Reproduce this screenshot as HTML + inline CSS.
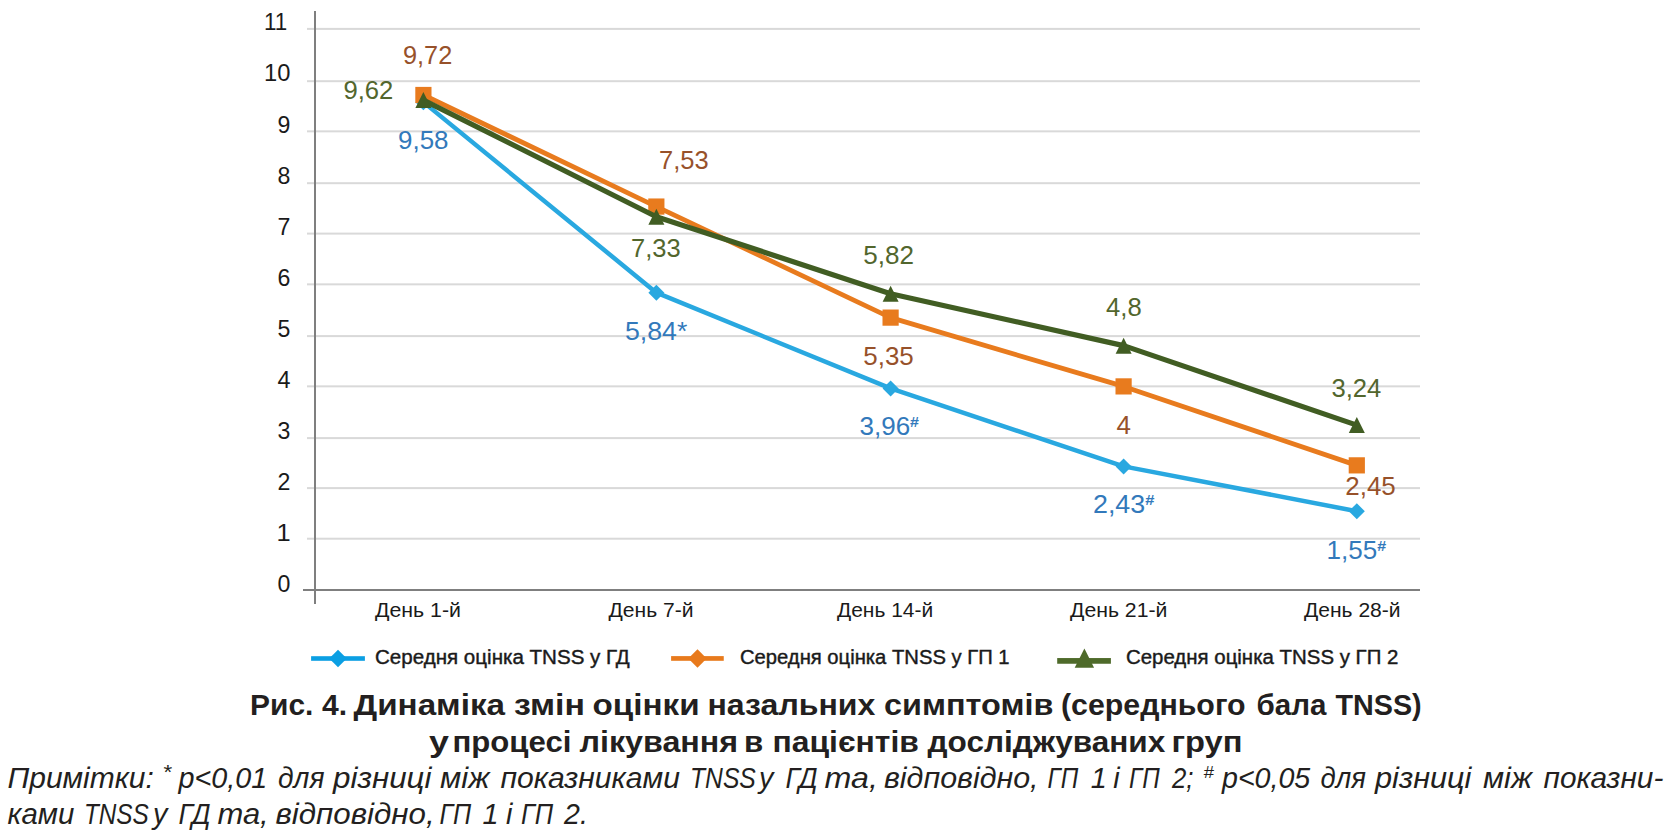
<!DOCTYPE html><html><head><meta charset="utf-8"><title>TNSS chart</title><style>html,body{margin:0;padding:0;background:#fff;}svg{display:block;}text{font-family:"Liberation Sans",Arial,sans-serif;}</style></head><body>
<svg width="1675" height="831" viewBox="0 0 1675 831">
<rect width="1675" height="831" fill="#fff"/>
<rect x="307" y="537.70" width="1113" height="2" fill="#d9d9d9"/>
<rect x="307" y="487.10" width="1113" height="2" fill="#d9d9d9"/>
<rect x="307" y="437.10" width="1113" height="2" fill="#d9d9d9"/>
<rect x="307" y="385.35" width="1113" height="2" fill="#d9d9d9"/>
<rect x="307" y="335.10" width="1113" height="2" fill="#d9d9d9"/>
<rect x="307" y="283.35" width="1113" height="2" fill="#d9d9d9"/>
<rect x="307" y="232.60" width="1113" height="2" fill="#d9d9d9"/>
<rect x="307" y="182.20" width="1113" height="2" fill="#d9d9d9"/>
<rect x="307" y="130.35" width="1113" height="2" fill="#d9d9d9"/>
<rect x="307" y="80.20" width="1113" height="2" fill="#d9d9d9"/>
<rect x="307" y="27.90" width="1113" height="2" fill="#d9d9d9"/>
<rect x="314" y="11" width="2" height="593" fill="#7f7f7f"/>
<rect x="303" y="589" width="1117" height="2" fill="#7f7f7f"/>
<polyline points="423.40,102.13 656.35,292.66 890.60,388.44 1123.60,466.38 1356.80,511.22" fill="none" stroke="#29a8e0" stroke-width="4.5" stroke-linejoin="round"/>
<polygon points="423.40,94.13 431.40,102.13 423.40,110.13 415.40,102.13" fill="#29a8e0"/>
<polygon points="656.35,284.66 664.35,292.66 656.35,300.66 648.35,292.66" fill="#29a8e0"/>
<polygon points="890.60,380.44 898.60,388.44 890.60,396.44 882.60,388.44" fill="#29a8e0"/>
<polygon points="1123.60,458.38 1131.60,466.38 1123.60,474.38 1115.60,466.38" fill="#29a8e0"/>
<polygon points="1356.80,503.22 1364.80,511.22 1356.80,519.22 1348.80,511.22" fill="#29a8e0"/>
<polyline points="423.40,94.99 656.35,206.56 890.60,317.62 1123.60,386.40 1356.80,465.36" fill="none" stroke="#e87b1e" stroke-width="4.8" stroke-linejoin="round"/>
<rect x="415.30" y="86.89" width="16.20" height="16.20" fill="#e87b1e"/>
<rect x="648.25" y="198.46" width="16.20" height="16.20" fill="#e87b1e"/>
<rect x="882.50" y="309.52" width="16.20" height="16.20" fill="#e87b1e"/>
<rect x="1115.50" y="378.30" width="16.20" height="16.20" fill="#e87b1e"/>
<rect x="1348.70" y="457.26" width="16.20" height="16.20" fill="#e87b1e"/>
<polyline points="423.40,100.09 656.35,216.75 890.60,293.68 1123.60,345.64 1356.80,425.12" fill="none" stroke="#415d23" stroke-width="5.2" stroke-linejoin="round"/>
<polygon points="423.40,92.09 431.40,108.09 415.40,108.09" fill="#415d23"/>
<polygon points="656.35,208.75 664.35,224.75 648.35,224.75" fill="#415d23"/>
<polygon points="890.60,285.68 898.60,301.68 882.60,301.68" fill="#415d23"/>
<polygon points="1123.60,337.64 1131.60,353.64 1115.60,353.64" fill="#415d23"/>
<polygon points="1356.80,417.12 1364.80,433.12 1348.80,433.12" fill="#415d23"/>
<rect x="311.1" y="656.20" width="53.80" height="4.6" fill="#0b9fe3"/>
<polygon points="338,649.7 346.8,658.5 338,667.3 329.2,658.5" fill="#0b9fe3"/>
<rect x="671.1" y="656.10" width="52.65" height="4.7" fill="#e87a1c"/>
<polygon points="697.5,649.25 706.7,658.45 697.5,667.6500000000001 688.3,658.45" fill="#e87a1c"/>
<rect x="1057.2" y="658.05" width="53.70" height="5.7" fill="#4e6a2a"/>
<polygon points="1084.4,648.4 1094.1000000000001,667.7 1074.7,667.7" fill="#4e6a2a"/>
<text x="277.50" y="592.16" font-size="23.5" fill="#1a1a1a" textLength="12.88" lengthAdjust="spacingAndGlyphs">0</text>
<text x="276.50" y="541.09" font-size="23.5" fill="#1a1a1a" textLength="14.17" lengthAdjust="spacingAndGlyphs">1</text>
<text x="277.50" y="490.02" font-size="23.5" fill="#1a1a1a" textLength="12.88" lengthAdjust="spacingAndGlyphs">2</text>
<text x="277.50" y="438.95" font-size="23.5" fill="#1a1a1a" textLength="12.88" lengthAdjust="spacingAndGlyphs">3</text>
<text x="277.50" y="387.88" font-size="23.5" fill="#1a1a1a" textLength="12.99" lengthAdjust="spacingAndGlyphs">4</text>
<text x="277.50" y="336.81" font-size="23.5" fill="#1a1a1a" textLength="12.88" lengthAdjust="spacingAndGlyphs">5</text>
<text x="277.50" y="285.74" font-size="23.5" fill="#1a1a1a" textLength="12.88" lengthAdjust="spacingAndGlyphs">6</text>
<text x="277.50" y="234.67" font-size="23.5" fill="#1a1a1a" textLength="12.88" lengthAdjust="spacingAndGlyphs">7</text>
<text x="277.50" y="183.60" font-size="23.5" fill="#1a1a1a" textLength="12.88" lengthAdjust="spacingAndGlyphs">8</text>
<text x="277.50" y="132.53" font-size="23.5" fill="#1a1a1a" textLength="12.88" lengthAdjust="spacingAndGlyphs">9</text>
<text x="264.00" y="81.46" font-size="23.5" fill="#1a1a1a" textLength="26.38" lengthAdjust="spacingAndGlyphs">10</text>
<text x="264.00" y="30.39" font-size="23.5" fill="#1a1a1a" textLength="23.24" lengthAdjust="spacingAndGlyphs">11</text>
<text x="403.00" y="63.77" font-size="25.2" fill="#97512a" textLength="49.24" lengthAdjust="spacingAndGlyphs">9,72</text>
<text x="343.50" y="98.62" font-size="25.2" fill="#52662d" textLength="49.87" lengthAdjust="spacingAndGlyphs">9,62</text>
<text x="398.00" y="148.77" font-size="25.2" fill="#3279bb" textLength="50.49" lengthAdjust="spacingAndGlyphs">9,58</text>
<text x="659.00" y="169.37" font-size="25.2" fill="#97512a" textLength="49.67" lengthAdjust="spacingAndGlyphs">7,53</text>
<text x="631.00" y="256.97" font-size="25.2" fill="#52662d" textLength="49.67" lengthAdjust="spacingAndGlyphs">7,33</text>
<text x="625.00" y="339.87" font-size="25.2" fill="#3279bb" textLength="62.34" lengthAdjust="spacingAndGlyphs">5,84*</text>
<text x="863.25" y="264.32" font-size="25.2" fill="#52662d" textLength="50.74" lengthAdjust="spacingAndGlyphs">5,82</text>
<text x="863.25" y="365.22" font-size="25.2" fill="#97512a" textLength="50.51" lengthAdjust="spacingAndGlyphs">5,35</text>
<text x="859.50" y="434.67" font-size="25.2" fill="#3279bb" textLength="59.52" lengthAdjust="spacingAndGlyphs">3,96<tspan dy="-7.8" font-size="15.5" font-weight="bold">#</tspan></text>
<text x="1106.00" y="315.87" font-size="25.2" fill="#52662d" textLength="35.68" lengthAdjust="spacingAndGlyphs">4,8</text>
<text x="1116.50" y="433.77" font-size="25.2" fill="#97512a" textLength="14.47" lengthAdjust="spacingAndGlyphs">4</text>
<text x="1093.00" y="513.02" font-size="25.2" fill="#3279bb" textLength="61.37" lengthAdjust="spacingAndGlyphs">2,43<tspan dy="-7.8" font-size="15.5" font-weight="bold">#</tspan></text>
<text x="1331.50" y="396.80" font-size="25.2" fill="#52662d" textLength="49.88" lengthAdjust="spacingAndGlyphs">3,24</text>
<text x="1345.25" y="495.02" font-size="25.2" fill="#97512a" textLength="50.51" lengthAdjust="spacingAndGlyphs">2,45</text>
<text x="1326.50" y="558.75" font-size="25.2" fill="#3279bb" textLength="59.55" lengthAdjust="spacingAndGlyphs">1,55<tspan dy="-7.8" font-size="15.5" font-weight="bold">#</tspan></text>
<text x="375.00" y="617.00" font-size="19.5" fill="#1a1a1a" textLength="86.00" lengthAdjust="spacingAndGlyphs">День 1-й</text>
<text x="608.50" y="617.00" font-size="19.5" fill="#1a1a1a" textLength="84.98" lengthAdjust="spacingAndGlyphs">День 7-й</text>
<text x="837.00" y="617.00" font-size="19.5" fill="#1a1a1a" textLength="96.20" lengthAdjust="spacingAndGlyphs">День 14-й</text>
<text x="1070.00" y="617.00" font-size="19.5" fill="#1a1a1a" textLength="97.42" lengthAdjust="spacingAndGlyphs">День 21-й</text>
<text x="1304.00" y="617.00" font-size="19.5" fill="#1a1a1a" textLength="96.60" lengthAdjust="spacingAndGlyphs">День 28-й</text>
<text x="375.00" y="663.50" font-size="19.5" fill="#1a1a1a" stroke="#1a1a1a" stroke-width="0.4" textLength="254.74" lengthAdjust="spacingAndGlyphs">Середня оцінка TNSS у ГД</text>
<text x="740.00" y="663.50" font-size="19.5" fill="#1a1a1a" stroke="#1a1a1a" stroke-width="0.4" textLength="269.54" lengthAdjust="spacingAndGlyphs">Середня оцінка TNSS у ГП 1</text>
<text x="1126.00" y="663.50" font-size="19.5" fill="#1a1a1a" stroke="#1a1a1a" stroke-width="0.4" textLength="272.35" lengthAdjust="spacingAndGlyphs">Середня оцінка TNSS у ГП 2</text>
<text x="250.00" y="715.00" font-size="30" fill="#231f20" font-weight="bold" textLength="63.37" lengthAdjust="spacingAndGlyphs">Рис.</text>
<text x="322.00" y="715.00" font-size="30" fill="#231f20" font-weight="bold" textLength="25.08" lengthAdjust="spacingAndGlyphs">4.</text>
<text x="353.50" y="715.00" font-size="30" fill="#231f20" font-weight="bold" textLength="151.52" lengthAdjust="spacingAndGlyphs">Динаміка</text>
<text x="514.00" y="715.00" font-size="30" fill="#231f20" font-weight="bold" textLength="70.98" lengthAdjust="spacingAndGlyphs">змін</text>
<text x="592.50" y="715.00" font-size="30" fill="#231f20" font-weight="bold" textLength="107.12" lengthAdjust="spacingAndGlyphs">оцінки</text>
<text x="707.50" y="715.00" font-size="30" fill="#231f20" font-weight="bold" textLength="167.79" lengthAdjust="spacingAndGlyphs">назальних</text>
<text x="884.00" y="715.00" font-size="30" fill="#231f20" font-weight="bold" textLength="169.33" lengthAdjust="spacingAndGlyphs">симптомів</text>
<text x="1061.00" y="715.00" font-size="30" fill="#231f20" font-weight="bold" textLength="184.63" lengthAdjust="spacingAndGlyphs">(середнього</text>
<text x="1256.50" y="715.00" font-size="30" fill="#231f20" font-weight="bold" textLength="69.88" lengthAdjust="spacingAndGlyphs">бала</text>
<text x="1335.50" y="715.00" font-size="30" fill="#231f20" font-weight="bold" textLength="86.19" lengthAdjust="spacingAndGlyphs">TNSS)</text>
<text x="429.00" y="751.80" font-size="30" fill="#231f20" font-weight="bold" textLength="19.91" lengthAdjust="spacingAndGlyphs">у</text>
<text x="452.50" y="751.80" font-size="30" fill="#231f20" font-weight="bold" textLength="118.86" lengthAdjust="spacingAndGlyphs">процесі</text>
<text x="579.50" y="751.80" font-size="30" fill="#231f20" font-weight="bold" textLength="158.61" lengthAdjust="spacingAndGlyphs">лікування</text>
<text x="744.00" y="751.80" font-size="30" fill="#231f20" font-weight="bold" textLength="19.24" lengthAdjust="spacingAndGlyphs">в</text>
<text x="772.50" y="751.80" font-size="30" fill="#231f20" font-weight="bold" textLength="146.37" lengthAdjust="spacingAndGlyphs">пацієнтів</text>
<text x="927.50" y="751.80" font-size="30" fill="#231f20" font-weight="bold" textLength="237.73" lengthAdjust="spacingAndGlyphs">досліджуваних</text>
<text x="1171.50" y="751.80" font-size="30" fill="#231f20" font-weight="bold" textLength="71.02" lengthAdjust="spacingAndGlyphs">груп</text>
<text x="7.50" y="787.70" font-size="28.8" fill="#231f20" font-style="italic" textLength="146.37" lengthAdjust="spacingAndGlyphs">Примітки:</text>
<text x="178.50" y="787.70" font-size="28.8" fill="#231f20" font-style="italic" textLength="88.76" lengthAdjust="spacingAndGlyphs">p&lt;0,01</text>
<text x="278.00" y="787.70" font-size="28.8" fill="#231f20" font-style="italic" textLength="46.43" lengthAdjust="spacingAndGlyphs">для</text>
<text x="333.00" y="787.70" font-size="28.8" fill="#231f20" font-style="italic" textLength="98.49" lengthAdjust="spacingAndGlyphs">різниці</text>
<text x="440.00" y="787.70" font-size="28.8" fill="#231f20" font-style="italic" textLength="49.51" lengthAdjust="spacingAndGlyphs">між</text>
<text x="500.50" y="787.70" font-size="28.8" fill="#231f20" font-style="italic" textLength="179.57" lengthAdjust="spacingAndGlyphs">показниками</text>
<text x="690.00" y="787.70" font-size="28.8" fill="#231f20" font-style="italic" textLength="65.85" lengthAdjust="spacingAndGlyphs">TNSS</text>
<text x="759.10" y="787.70" font-size="28.8" fill="#231f20" font-style="italic">у</text>
<text x="785.50" y="787.70" font-size="28.8" fill="#231f20" font-style="italic" textLength="32.16" lengthAdjust="spacingAndGlyphs">ГД</text>
<text x="824.50" y="787.70" font-size="28.8" fill="#231f20" font-style="italic" textLength="53.33" lengthAdjust="spacingAndGlyphs">та,</text>
<text x="884.00" y="787.70" font-size="28.8" fill="#231f20" font-style="italic" textLength="154.54" lengthAdjust="spacingAndGlyphs">відповідно,</text>
<text x="1047.50" y="787.70" font-size="28.8" fill="#231f20" font-style="italic" textLength="30.62" lengthAdjust="spacingAndGlyphs">ГП</text>
<text x="1090.70" y="787.70" font-size="28.8" fill="#231f20" font-style="italic">1</text>
<text x="1113.30" y="787.70" font-size="28.8" fill="#231f20" font-style="italic">і</text>
<text x="1129.00" y="787.70" font-size="28.8" fill="#231f20" font-style="italic" textLength="30.62" lengthAdjust="spacingAndGlyphs">ГП</text>
<text x="1172.00" y="787.70" font-size="28.8" fill="#231f20" font-style="italic" textLength="21.45" lengthAdjust="spacingAndGlyphs">2;</text>
<text x="1222.00" y="787.70" font-size="28.8" fill="#231f20" font-style="italic" textLength="88.28" lengthAdjust="spacingAndGlyphs">p&lt;0,05</text>
<text x="1320.50" y="787.70" font-size="28.8" fill="#231f20" font-style="italic" textLength="45.42" lengthAdjust="spacingAndGlyphs">для</text>
<text x="1375.00" y="787.70" font-size="28.8" fill="#231f20" font-style="italic" textLength="96.44" lengthAdjust="spacingAndGlyphs">різниці</text>
<text x="1483.00" y="787.70" font-size="28.8" fill="#231f20" font-style="italic" textLength="49.03" lengthAdjust="spacingAndGlyphs">між</text>
<text x="1543.50" y="787.70" font-size="28.8" fill="#231f20" font-style="italic" textLength="119.87" lengthAdjust="spacingAndGlyphs">показни-</text>
<text x="7.50" y="823.70" font-size="28.8" fill="#231f20" font-style="italic" textLength="66.82" lengthAdjust="spacingAndGlyphs">ками</text>
<text x="84.00" y="823.70" font-size="28.8" fill="#231f20" font-style="italic" textLength="64.78" lengthAdjust="spacingAndGlyphs">TNSS</text>
<text x="153.00" y="823.70" font-size="28.8" fill="#231f20" font-style="italic">у</text>
<text x="178.50" y="823.70" font-size="28.8" fill="#231f20" font-style="italic" textLength="32.16" lengthAdjust="spacingAndGlyphs">ГД</text>
<text x="217.50" y="823.70" font-size="28.8" fill="#231f20" font-style="italic" textLength="51.22" lengthAdjust="spacingAndGlyphs">та,</text>
<text x="275.50" y="823.70" font-size="28.8" fill="#231f20" font-style="italic" textLength="159.14" lengthAdjust="spacingAndGlyphs">відповідно,</text>
<text x="439.50" y="823.70" font-size="28.8" fill="#231f20" font-style="italic" textLength="31.74" lengthAdjust="spacingAndGlyphs">ГП</text>
<text x="482.50" y="823.70" font-size="28.8" fill="#231f20" font-style="italic">1</text>
<text x="506.10" y="823.70" font-size="28.8" fill="#231f20" font-style="italic">і</text>
<text x="521.00" y="823.70" font-size="28.8" fill="#231f20" font-style="italic" textLength="32.14" lengthAdjust="spacingAndGlyphs">ГП</text>
<text x="564.00" y="823.70" font-size="28.8" fill="#231f20" font-style="italic" textLength="23.83" lengthAdjust="spacingAndGlyphs">2.</text>
<text x="162.50" y="778.80" font-size="20" fill="#231f20" font-style="italic" textLength="8.82" lengthAdjust="spacingAndGlyphs">*</text>
<text x="1203.50" y="778.00" font-size="17" fill="#231f20" font-style="italic" textLength="10.24" lengthAdjust="spacingAndGlyphs">#</text>
</svg></body></html>
